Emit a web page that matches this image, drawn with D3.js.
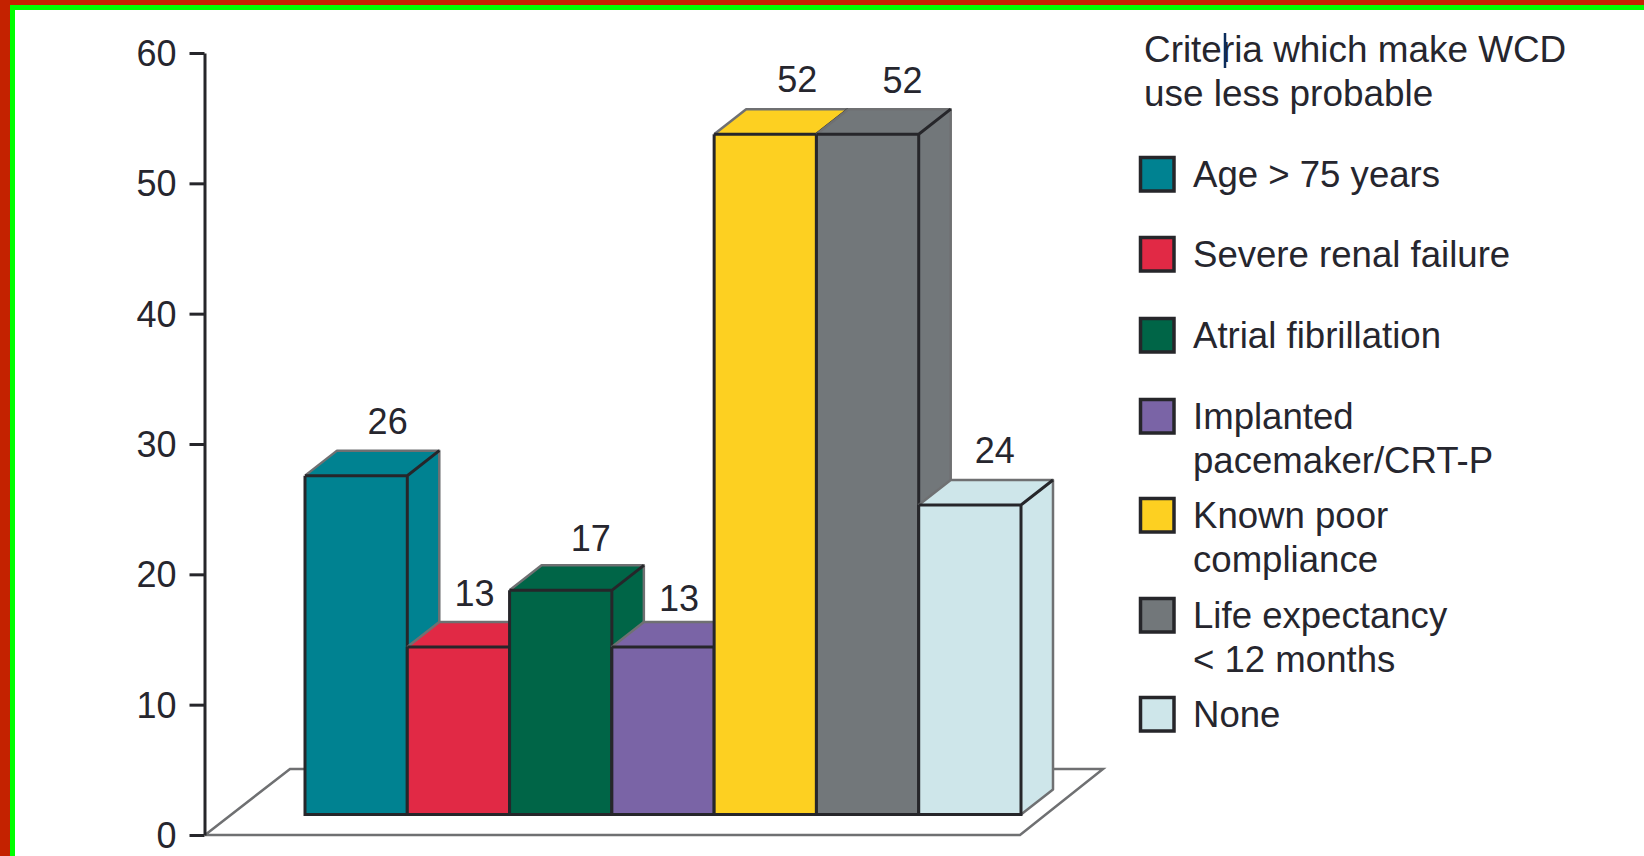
<!DOCTYPE html>
<html>
<head>
<meta charset="utf-8">
<style>
  html, body { margin: 0; padding: 0; background: #fff; }
  svg { display: block; }
  text { font-family: "Liberation Sans", Arial, sans-serif; fill: #26262e; }
</style>
</head>
<body>
<svg width="1644" height="856"></svg>
<script src="https://d3js.org/d3.v7.min.js"></script>
<script>

var categories = ["Age > 75 years", "Severe renal failure", "Atrial fibrillation",
  "Implanted pacemaker/CRT-P", "Known poor compliance", "Life expectancy < 12 months", "None"];

// printed numbers, and the heights the bars are really drawn at
var printedValues = [26, 13, 17, 13, 52, 52, 24];
var barValues = [26, 12.85, 17.2, 12.85, 52.2, 52.2, 23.75];

var colors = ["#008291", "#e12945", "#006547", "#7a64a6", "#fdd021", "#72777a", "#cee6ea"];
var yTicks = [0, 10, 20, 30, 40, 50, 60];

var titleLines = ["Criteria which make WCD", "use less probable"];
var legendLines = [
  ["Age > 75 years"],
  ["Severe renal failure"],
  ["Atrial fibrillation"],
  ["Implanted", "pacemaker/CRT-P"],
  ["Known poor", "compliance"],
  ["Life expectancy", "< 12 months"],
  ["None"]
];

// layout only
var legendBaselines = [187, 267, 348, 429, 528, 628, 727];
var labelNudge = [[31.5, -42], [16, -41], [30, -39], [16, -36], [32, -42], [35, -41], [25, -42]];
var depth = {x: 32, y: 25};
var lift = 20.5;   // bars stand this far above the front edge of the floor
var dark = "#26262a", soft = "#6f7072";

var svg = d3.select("svg");

// image frame
svg.append("rect").attr("width", 1644).attr("height", 5).attr("fill", "#c42200");
svg.append("rect").attr("width", 10).attr("height", 856).attr("fill", "#c42200");
svg.append("rect").attr("x", 10).attr("y", 5).attr("width", 1634).attr("height", 5).attr("fill", "#00ff00");
svg.append("rect").attr("x", 10).attr("y", 5).attr("width", 5).attr("height", 851).attr("fill", "#00ff00");

var x = d3.scaleBand().domain(categories).range([305, 1021]);
var y = d3.scaleLinear().domain([0, 60]).range([835, 53]);

// floor
var floorLeft = 205, floorRight = 1020, floorBack = 66, floorSkew = 85;
svg.append("path")
    .attr("fill", "none")
    .attr("stroke", soft)
    .attr("stroke-width", 2.5)
    .attr("d", d3.line()([
      [floorLeft, y(0)], [floorLeft + floorSkew, y(0) - floorBack],
      [floorRight + 83, y(0) - floorBack], [floorRight, y(0)], [floorLeft, y(0)]
    ]));

// bars, left to right so each one covers the side of the one before
var bars = svg.selectAll(".bar")
  .data(categories)
  .enter().append("g")
    .attr("class", "bar");

function corners(i) {
  var c = categories[i], x0 = x(c), x1 = x0 + x.bandwidth();
  return {x0: x0, x1: x1, top: y(barValues[i]) - lift, bottom: y(0) - lift};
}

bars.append("path")
    .attr("fill", function(d, i) { return colors[i]; })
    .attr("d", function(d, i) {
      var b = corners(i);
      return d3.line()([[b.x0, b.top], [b.x0 + depth.x, b.top - depth.y], [b.x1 + depth.x, b.top - depth.y],
        [b.x1 + depth.x, b.bottom - depth.y], [b.x1, b.bottom], [b.x0, b.bottom]]) + "Z";
    });

bars.append("path")
    .attr("fill", "none")
    .attr("stroke", soft)
    .attr("stroke-width", 2.5)
    .attr("stroke-linejoin", "round")
    .attr("d", function(d, i) {
      var b = corners(i);
      return d3.line()([[b.x0, b.top], [b.x0 + depth.x, b.top - depth.y], [b.x1 + depth.x, b.top - depth.y],
        [b.x1 + depth.x, b.bottom - depth.y], [b.x1, b.bottom]]);
    });

bars.append("path")
    .attr("fill", "none")
    .attr("stroke", dark)
    .attr("stroke-width", 3)
    .attr("d", function(d, i) {
      var b = corners(i);
      return d3.line()([[b.x0, b.top], [b.x1, b.top], [b.x1 + depth.x, b.top - depth.y]]) +
        d3.line()([[b.x1, b.top], [b.x1, b.bottom], [b.x0, b.bottom], [b.x0, b.top]]);
    });

bars.append("text")
    .attr("text-anchor", "middle")
    .attr("font-size", 36)
    .attr("x", function(d, i) { return x(d) + x.bandwidth() / 2 + labelNudge[i][0]; })
    .attr("y", function(d, i) { return y(barValues[i]) - lift + labelNudge[i][1]; })
    .text(function(d, i) { return printedValues[i]; });

// y axis
var axis = svg.append("g")
    .attr("transform", "translate(204.5,0)")
    .call(d3.axisLeft(y).tickValues(yTicks).tickSize(15).tickSizeOuter(0).tickPadding(13));
axis.selectAll("path, line").attr("stroke", dark).attr("stroke-width", 3);
axis.selectAll("text").attr("font-size", 36).attr("fill", "#26262e")
    .attr("dy", "0.35em")
    .style("font-family", '"Liberation Sans", Arial, sans-serif');

// legend title
svg.selectAll(".title")
  .data(titleLines)
  .enter().append("text")
    .attr("class", "title")
    .attr("x", 1144)
    .attr("y", function(d, i) { return 62 + i * 44; })
    .attr("font-size", 36.9)
    .text(function(d) { return d; });

// text cursor left in the source image
svg.append("line")
    .attr("x1", 1225).attr("x2", 1225).attr("y1", 33).attr("y2", 68)
    .attr("stroke", "#0b2c5c").attr("stroke-width", 2.5);

// legend
var rows = svg.selectAll(".row")
  .data(legendLines)
  .enter().append("g")
    .attr("class", "row")
    .attr("transform", function(d, i) { return "translate(1139," + legendBaselines[i] + ")"; });

rows.append("rect")
    .attr("x", 1.5).attr("y", -29.5)
    .attr("width", 33.5).attr("height", 33.5)
    .attr("fill", function(d, i) { return colors[i]; })
    .attr("stroke", dark)
    .attr("stroke-width", 3.5);

rows.selectAll("text")
  .data(function(d) { return d; })
  .enter().append("text")
    .attr("x", 54)
    .attr("y", function(d, i) { return i * 44; })
    .attr("font-size", 36.6)
    .text(function(d) { return d; });

</script>
</body>
</html>
